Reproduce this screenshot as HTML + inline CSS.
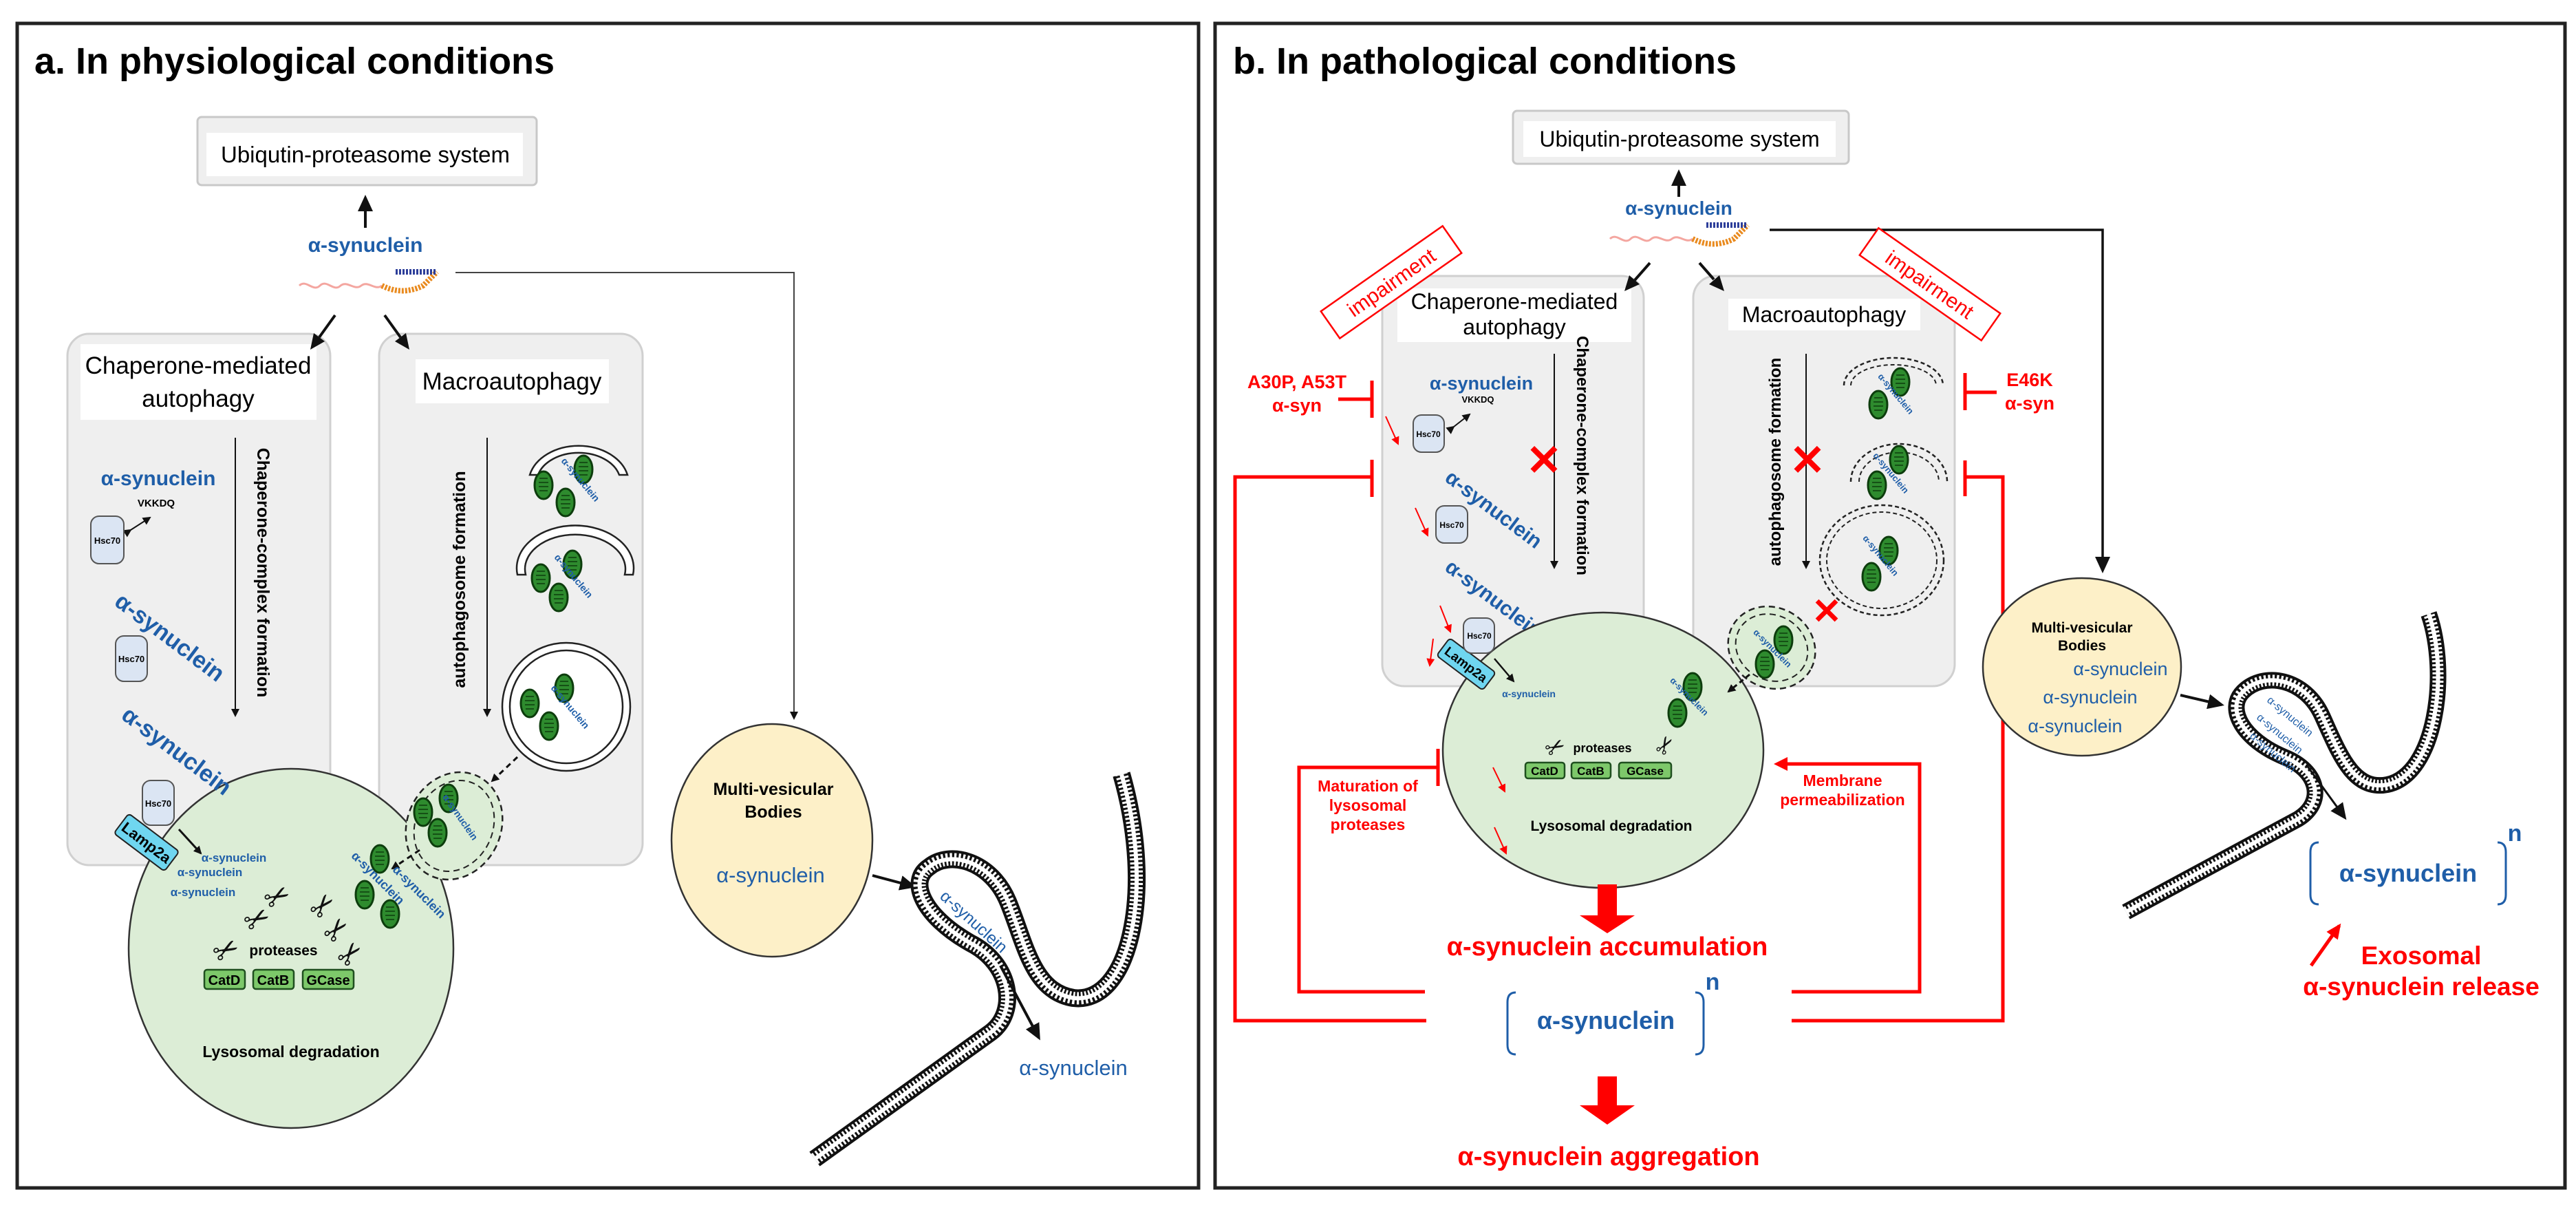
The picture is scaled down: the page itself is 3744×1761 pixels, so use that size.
<!DOCTYPE html>
<html><head><meta charset="utf-8"><style>
html,body{margin:0;padding:0;background:#fff}
svg{display:block}
text{font-family:"Liberation Sans",Arial,sans-serif}
.b{font-weight:bold}
.blue{fill:#1f5ea8}
.red{fill:#f00}
</style></head><body>
<svg width="3744" height="1761" viewBox="0 0 3744 1761" xmlns="http://www.w3.org/2000/svg">
<defs>
<marker id="ah" markerWidth="12" markerHeight="12" refX="10" refY="6" orient="auto" markerUnits="userSpaceOnUse"><path d="M0,0 L12,6 L0,12 z" fill="#111"/></marker>
<marker id="ahB" markerWidth="24" markerHeight="22" refX="20" refY="11" orient="auto" markerUnits="userSpaceOnUse"><path d="M0,0 L24,11 L0,22 z" fill="#111"/></marker>
<marker id="ahR" markerWidth="22" markerHeight="20" refX="18" refY="10" orient="auto" markerUnits="userSpaceOnUse"><path d="M0,0 L22,10 L0,20 z" fill="#f00"/></marker>
<marker id="ahr" markerWidth="12" markerHeight="12" refX="10" refY="6" orient="auto" markerUnits="userSpaceOnUse"><path d="M0,0 L12,6 L0,12 z" fill="#f00"/></marker>
<g id="mito"><ellipse cx="0" cy="0" rx="13" ry="20" fill="#2e8b2e" stroke="#0d3d0d" stroke-width="3"/><path d="M-6,-10 H6 M-7,-4 H7 M-7,2 H7 M-6,8 H6" stroke="#0d3d0d" stroke-width="1.5"/></g>
<g id="prot"><path d="M0,25 c10,-10 20,10 30,0 c10,-10 20,10 30,0 c10,-8 20,8 30,0 c10,-8 20,8 30,0" fill="none" stroke="#f4a6a0" stroke-width="3"/><path d="M120,25 c20,10 40,10 60,0 l20,-20" fill="none" stroke="#e98a1e" stroke-width="8" stroke-dasharray="3 2"/><path d="M140,5 h60" fill="none" stroke="#2e3f9a" stroke-width="8" stroke-dasharray="3 2"/></g>
</defs>

<!-- PANEL A -->
<rect x="25" y="34" width="1717" height="1692" fill="#fff" stroke="#222" stroke-width="5"/>
<text x="50" y="107" class="b" font-size="54">a. In physiological conditions</text>

<rect x="287" y="170" width="493" height="99" rx="6" fill="#efefef" stroke="#c8c8c8" stroke-width="3"/>
<rect x="300" y="193" width="460" height="63" fill="#fff"/>
<text x="531" y="236" font-size="33" text-anchor="middle">Ubiqutin-proteasome system</text>
<line x1="531" y1="331" x2="531" y2="287" stroke="#111" stroke-width="4" marker-end="url(#ahB)"/>
<text x="531" y="366" font-size="30" class="b blue" text-anchor="middle">α-synuclein</text>
<use href="#prot" x="435" y="390"/>
<polyline points="662,396 1154,396 1154,1044" fill="none" stroke="#444" stroke-width="2" marker-end="url(#ah)"/>

<rect x="98" y="485" width="382" height="772" rx="32" fill="#efefef" stroke="#d0d0d0" stroke-width="3"/>
<rect x="117" y="500" width="343" height="110" fill="#fff"/>
<text x="288" y="543" font-size="35" text-anchor="middle">Chaperone-mediated</text>
<text x="288" y="591" font-size="35" text-anchor="middle">autophagy</text>
<line x1="342" y1="636" x2="342" y2="1040" stroke="#111" stroke-width="2" marker-end="url(#ah)"/>
<text transform="translate(374,832) rotate(90)" font-size="25" class="b" text-anchor="middle">Chaperone-complex formation</text>
<text x="230" y="705" font-size="30" class="b blue" text-anchor="middle">α-synuclein</text>
<text x="227" y="736" font-size="15" class="b" text-anchor="middle">VKKDQ</text>
<line x1="190" y1="770" x2="218" y2="752" stroke="#111" stroke-width="2" marker-end="url(#ah)" marker-start="url(#ah)"/>
<rect x="132" y="750" width="48" height="69" rx="12" fill="#dbe5f3" stroke="#555" stroke-width="2"/>
<text x="156" y="790" font-size="13" class="b" text-anchor="middle">Hsc70</text>
<rect x="168" y="924" width="46" height="66" rx="12" fill="#dbe5f3" stroke="#555" stroke-width="2"/>
<text x="191" y="962" font-size="13" class="b" text-anchor="middle">Hsc70</text>
<text transform="translate(240,935) rotate(37)" font-size="34" class="b blue" text-anchor="middle">α-synuclein</text>
<rect x="207" y="1134" width="46" height="65" rx="12" fill="#dbe5f3" stroke="#555" stroke-width="2"/>
<text x="230" y="1172" font-size="13" class="b" text-anchor="middle">Hsc70</text>

<rect x="551" y="485" width="383" height="772" rx="32" fill="#efefef" stroke="#d0d0d0" stroke-width="3"/>
<rect x="604" y="522" width="281" height="64" fill="#fff"/>
<text x="744" y="566" font-size="35" text-anchor="middle">Macroautophagy</text>
<line x1="708" y1="636" x2="708" y2="1040" stroke="#111" stroke-width="2" marker-end="url(#ah)"/>
<text transform="translate(676,842) rotate(-90)" font-size="25" class="b" text-anchor="middle">autophagosome formation</text>
<path d="M770,690 A73,55 0 0 1 912,690 L900,690 A61,43 0 0 0 782,690 z" fill="#fff" stroke="#222" stroke-width="2.5"/>
<use href="#mito" x="790" y="705"/><use href="#mito" x="848" y="682"/><use href="#mito" x="822" y="730"/>
<text transform="translate(840,700) rotate(50)" font-size="14" class="b blue" text-anchor="middle">α-synuclein</text>
<path d="M752,835 A85,62 0 1 1 920,835 L908,835 A73,50 0 1 0 764,835 z" fill="#fff" stroke="#222" stroke-width="2.5"/>
<use href="#mito" x="786" y="840"/><use href="#mito" x="832" y="820"/><use href="#mito" x="812" y="868"/>
<text transform="translate(830,840) rotate(50)" font-size="14" class="b blue" text-anchor="middle">α-synuclein</text>
<circle cx="823" cy="1027" r="93" fill="#fff" stroke="#222" stroke-width="2.5"/>
<circle cx="823" cy="1027" r="82" fill="#fff" stroke="#222" stroke-width="2.5"/>
<use href="#mito" x="770" y="1022"/><use href="#mito" x="820" y="1000"/><use href="#mito" x="798" y="1055"/>
<text transform="translate(825,1030) rotate(50)" font-size="14" class="b blue" text-anchor="middle">α-synuclein</text>
<line x1="752" y1="1100" x2="715" y2="1135" stroke="#111" stroke-width="3" stroke-dasharray="8 6" marker-end="url(#ah)"/>

<ellipse cx="423" cy="1378" rx="236" ry="261" fill="#dcedd6" stroke="#333" stroke-width="2.5"/>
<ellipse cx="660" cy="1200" rx="68" ry="80" transform="rotate(25 660 1200)" fill="#dcedd6" stroke="#222" stroke-width="2.5" stroke-dasharray="9 6"/>
<ellipse cx="660" cy="1200" rx="56" ry="68" transform="rotate(25 660 1200)" fill="none" stroke="#222" stroke-width="2" stroke-dasharray="9 6"/>
<use href="#mito" x="615" y="1180"/><use href="#mito" x="652" y="1160"/><use href="#mito" x="636" y="1210"/>
<text transform="translate(665,1190) rotate(55)" font-size="14" class="b blue" text-anchor="middle">α-synuclein</text>
<line x1="610" y1="1235" x2="570" y2="1262" stroke="#111" stroke-width="3" stroke-dasharray="8 6" marker-end="url(#ah)"/>
<g transform="translate(213,1224) rotate(37)"><rect x="-46" y="-18" width="92" height="36" rx="5" fill="#6fd6f0" stroke="#222" stroke-width="2"/><text x="0" y="8" font-size="22" class="b" text-anchor="middle">Lamp2a</text></g>
<line x1="260" y1="1205" x2="292" y2="1240" stroke="#111" stroke-width="3" marker-end="url(#ah)"/>
<text x="340" y="1252" font-size="17" class="b blue" text-anchor="middle">α-synuclein</text>
<text x="305" y="1273" font-size="17" class="b blue" text-anchor="middle">α-synuclein</text>
<text x="295" y="1302" font-size="17" class="b blue" text-anchor="middle">α-synuclein</text>
<use href="#mito" x="552" y="1248"/><use href="#mito" x="530" y="1300"/><use href="#mito" x="567" y="1328"/>
<text transform="translate(545,1280) rotate(45)" font-size="18" class="b blue" text-anchor="middle">α-synuclein</text>
<text transform="translate(605,1300) rotate(45)" font-size="18" class="b blue" text-anchor="middle">α-synuclein</text>
<g font-size="44" fill="#111">
<text x="310" y="1395" transform="rotate(-30 330 1380)">✂</text>
<text x="355" y="1350" transform="rotate(-30 375 1335)">✂</text>
<text x="385" y="1320" transform="rotate(-30 400 1305)">✂</text>
<text x="450" y="1330" transform="rotate(-50 470 1315)">✂</text>
<text x="470" y="1365" transform="rotate(-50 490 1350)">✂</text>
<text x="490" y="1400" transform="rotate(-50 510 1385)">✂</text>
</g>
<text x="412" y="1388" font-size="21" class="b" text-anchor="middle">proteases</text>
<rect x="297" y="1409" width="59" height="28" rx="4" fill="#7dc86a" stroke="#1f4f1f" stroke-width="2.5"/><text x="326" y="1431" font-size="20" class="b" text-anchor="middle">CatD</text>
<rect x="368" y="1409" width="59" height="28" rx="4" fill="#7dc86a" stroke="#1f4f1f" stroke-width="2.5"/><text x="397" y="1431" font-size="20" class="b" text-anchor="middle">CatB</text>
<rect x="440" y="1409" width="74" height="28" rx="4" fill="#7dc86a" stroke="#1f4f1f" stroke-width="2.5"/><text x="477" y="1431" font-size="20" class="b" text-anchor="middle">GCase</text>
<text x="423" y="1536" font-size="23" class="b" text-anchor="middle">Lysosomal  degradation</text>
<text transform="translate(250,1100) rotate(37)" font-size="34" class="b blue" text-anchor="middle">α-synuclein</text>

<ellipse cx="1122" cy="1221" rx="146" ry="169" fill="#fdf0c8" stroke="#333" stroke-width="2.5"/>
<text x="1124" y="1155" font-size="25" class="b" text-anchor="middle">Multi-vesicular</text>
<text x="1124" y="1188" font-size="25" class="b" text-anchor="middle">Bodies</text>
<text x="1120" y="1282" font-size="31" class="blue" text-anchor="middle">α-synuclein</text>
<line x1="1268" y1="1272" x2="1328" y2="1288" stroke="#111" stroke-width="4" marker-end="url(#ahB)"/>
<g fill="none">
<path d="M1184,1684 L1440,1500 C1480,1470 1470,1400 1410,1370 C1340,1330 1320,1280 1350,1260 C1380,1235 1440,1250 1465,1310 C1490,1370 1500,1440 1560,1450 C1640,1460 1680,1300 1630,1125" stroke="#111" stroke-width="26"/>
<path d="M1184,1684 L1440,1500 C1480,1470 1470,1400 1410,1370 C1340,1330 1320,1280 1350,1260 C1380,1235 1440,1250 1465,1310 C1490,1370 1500,1440 1560,1450 C1640,1460 1680,1300 1630,1125" stroke="#fff" stroke-width="18" stroke-dasharray="3 3"/>
<path d="M1184,1684 L1440,1500 C1480,1470 1470,1400 1410,1370 C1340,1330 1320,1280 1350,1260 C1380,1235 1440,1250 1465,1310 C1490,1370 1500,1440 1560,1450 C1640,1460 1680,1300 1630,1125" stroke="#fff" stroke-width="6"/>
</g>
<text transform="translate(1410,1345) rotate(42)" font-size="24" class="blue" text-anchor="middle">α-synuclein</text>
<line x1="1454" y1="1403" x2="1510" y2="1508" stroke="#111" stroke-width="4" marker-end="url(#ahB)"/>
<text x="1560" y="1562" font-size="31" class="blue" text-anchor="middle">α-synuclein</text>

<!-- PANEL B -->
<rect x="1766" y="34" width="1962" height="1692" fill="#fff" stroke="#222" stroke-width="5"/>
<text x="1792" y="107" class="b" font-size="54">b. In pathological conditions</text>

<rect x="2199" y="161" width="488" height="77" rx="6" fill="#efefef" stroke="#c8c8c8" stroke-width="3"/>
<rect x="2214" y="176" width="454" height="52" fill="#fff"/>
<text x="2441" y="213" font-size="32" text-anchor="middle">Ubiqutin-proteasome system</text>
<line x1="2440" y1="286" x2="2440" y2="250" stroke="#111" stroke-width="4" marker-end="url(#ahB)"/>
<text x="2440" y="312" font-size="28" class="b blue" text-anchor="middle">α-synuclein</text>
<use href="#prot" x="2340" y="322"/>
<polyline points="2572,334 3056,334 3056,829" fill="none" stroke="#111" stroke-width="3.5" marker-end="url(#ahB)"/>

<rect x="2009" y="401" width="380" height="596" rx="32" fill="#efefef" stroke="#d0d0d0" stroke-width="3"/>
<rect x="2031" y="419" width="340" height="78" fill="#fff"/>
<text x="2201" y="449" font-size="32" text-anchor="middle">Chaperone-mediated</text>
<text x="2201" y="486" font-size="32" text-anchor="middle">autophagy</text>
<line x1="2259" y1="514" x2="2259" y2="825" stroke="#111" stroke-width="2" marker-end="url(#ah)"/>
<text transform="translate(2292,662) rotate(90)" font-size="24" class="b" text-anchor="middle">Chaperone-complex formation</text>
<text x="2244" y="690" font-size="62" class="b red" text-anchor="middle">✕</text>
<text x="2153" y="566" font-size="27" class="b blue" text-anchor="middle">α-synuclein</text>
<text x="2148" y="585" font-size="13" class="b" text-anchor="middle">VKKDQ</text>
<line x1="2113" y1="620" x2="2136" y2="602" stroke="#111" stroke-width="2" marker-end="url(#ah)" marker-start="url(#ah)"/>
<rect x="2054" y="603" width="45" height="54" rx="12" fill="#dbe5f3" stroke="#555" stroke-width="2"/><text x="2076" y="635" font-size="12" class="b" text-anchor="middle">Hsc70</text>
<rect x="2087" y="735" width="46" height="54" rx="12" fill="#dbe5f3" stroke="#555" stroke-width="2"/><text x="2110" y="767" font-size="12" class="b" text-anchor="middle">Hsc70</text>
<text transform="translate(2165,748) rotate(37)" font-size="30" class="b blue" text-anchor="middle">α-synuclein</text>
<text transform="translate(2165,878) rotate(37)" font-size="30" class="b blue" text-anchor="middle">α-synuclein</text>
<line x1="2014" y1="605" x2="2032" y2="645" stroke="#f00" stroke-width="2" marker-end="url(#ahr)"/>
<line x1="2057" y1="738" x2="2075" y2="778" stroke="#f00" stroke-width="2" marker-end="url(#ahr)"/>

<rect x="2461" y="401" width="380" height="596" rx="32" fill="#efefef" stroke="#d0d0d0" stroke-width="3"/>
<rect x="2512" y="434" width="279" height="46" fill="#fff"/>
<text x="2651" y="468" font-size="32" text-anchor="middle">Macroautophagy</text>
<line x1="2625" y1="514" x2="2625" y2="825" stroke="#111" stroke-width="2" marker-end="url(#ah)"/>
<text transform="translate(2588,671) rotate(-90)" font-size="24" class="b" text-anchor="middle">autophagosome formation</text>
<text x="2627" y="690" font-size="62" class="b red" text-anchor="middle">✕</text>
<path d="M2680,560 A72,40 0 0 1 2824,560" fill="none" stroke="#222" stroke-width="2.5" stroke-dasharray="6 4"/>
<path d="M2690,560 A62,30 0 0 1 2814,560" fill="none" stroke="#222" stroke-width="2" stroke-dasharray="6 4"/>
<use href="#mito" x="2762" y="555"/><use href="#mito" x="2730" y="588"/>
<text transform="translate(2752,575) rotate(50)" font-size="13" class="b blue" text-anchor="middle">α-synuclein</text>
<path d="M2690,700 A70,55 0 1 1 2830,700" fill="none" stroke="#222" stroke-width="2.5" stroke-dasharray="6 4"/>
<path d="M2702,700 A58,43 0 1 1 2818,700" fill="none" stroke="#222" stroke-width="2" stroke-dasharray="6 4"/>
<use href="#mito" x="2760" y="668"/><use href="#mito" x="2728" y="705"/>
<text transform="translate(2745,690) rotate(50)" font-size="13" class="b blue" text-anchor="middle">α-synuclein</text>
<ellipse cx="2735" cy="814" rx="90" ry="80" fill="none" stroke="#222" stroke-width="2.5" stroke-dasharray="6 4"/>
<ellipse cx="2735" cy="814" rx="80" ry="70" fill="none" stroke="#222" stroke-width="2" stroke-dasharray="6 4"/>
<use href="#mito" x="2745" y="800"/><use href="#mito" x="2720" y="838"/>
<text transform="translate(2730,810) rotate(50)" font-size="13" class="b blue" text-anchor="middle">α-synuclein</text>
<text x="2655" y="906" font-size="52" class="b red" text-anchor="middle">✕</text>

<ellipse cx="2330" cy="1090" rx="233" ry="200" fill="#dcedd6" stroke="#333" stroke-width="2.5"/>
<ellipse cx="2575" cy="941" rx="65" ry="58" transform="rotate(30 2575 941)" fill="#dcedd6" stroke="#222" stroke-width="2.5" stroke-dasharray="9 6"/>
<ellipse cx="2575" cy="941" rx="54" ry="47" transform="rotate(30 2575 941)" fill="none" stroke="#222" stroke-width="2" stroke-dasharray="9 6"/>
<use href="#mito" x="2592" y="930"/><use href="#mito" x="2565" y="965"/>
<text transform="translate(2573,945) rotate(45)" font-size="13" class="b blue" text-anchor="middle">α-synuclein</text>
<line x1="2543" y1="980" x2="2512" y2="1005" stroke="#111" stroke-width="3" stroke-dasharray="7 5" marker-end="url(#ah)"/>
<use href="#mito" x="2460" y="998"/><use href="#mito" x="2438" y="1036"/>
<text transform="translate(2452,1015) rotate(45)" font-size="13" class="b blue" text-anchor="middle">α-synuclein</text>
<g transform="translate(2131,965) rotate(37)"><rect x="-42" y="-16" width="84" height="32" rx="5" fill="#6fd6f0" stroke="#222" stroke-width="2"/><text x="0" y="7" font-size="19" class="b" text-anchor="middle">Lamp2a</text></g>
<rect x="2127" y="898" width="45" height="51" rx="12" fill="#dbe5f3" stroke="#555" stroke-width="2"/><text x="2150" y="928" font-size="12" class="b" text-anchor="middle">Hsc70</text>
<line x1="2172" y1="957" x2="2200" y2="990" stroke="#111" stroke-width="2.5" marker-end="url(#ah)"/>
<text x="2222" y="1013" font-size="14" class="b blue" text-anchor="middle">α-synuclein</text>
<line x1="2093" y1="880" x2="2108" y2="918" stroke="#f00" stroke-width="2" marker-end="url(#ahr)"/>
<line x1="2083" y1="928" x2="2078" y2="967" stroke="#f00" stroke-width="2" marker-end="url(#ahr)"/>
<text x="2245" y="1100" font-size="34" fill="#111" transform="rotate(-30 2255 1085)">✂</text>
<text x="2405" y="1100" font-size="34" fill="#111" transform="rotate(-60 2415 1085)">✂</text>
<text x="2329" y="1093" font-size="18" class="b" text-anchor="middle">proteases</text>
<rect x="2217" y="1108" width="57" height="23" rx="4" fill="#7dc86a" stroke="#1f4f1f" stroke-width="2.5"/><text x="2245" y="1126" font-size="17" class="b" text-anchor="middle">CatD</text>
<rect x="2284" y="1108" width="57" height="23" rx="4" fill="#7dc86a" stroke="#1f4f1f" stroke-width="2.5"/><text x="2312" y="1126" font-size="17" class="b" text-anchor="middle">CatB</text>
<rect x="2353" y="1108" width="76" height="23" rx="4" fill="#7dc86a" stroke="#1f4f1f" stroke-width="2.5"/><text x="2391" y="1126" font-size="17" class="b" text-anchor="middle">GCase</text>
<line x1="2170" y1="1115" x2="2187" y2="1150" stroke="#f00" stroke-width="2" marker-end="url(#ahr)"/>
<line x1="2172" y1="1202" x2="2189" y2="1240" stroke="#f00" stroke-width="2" marker-end="url(#ahr)"/>
<text x="2342" y="1207" font-size="21" class="b" text-anchor="middle">Lysosomal  degradation</text>

<g transform="translate(2022,410) rotate(-35)"><rect x="-108" y="-24" width="216" height="48" fill="#fff" stroke="#f00" stroke-width="2.5"/><text x="0" y="11" font-size="30" class="red" text-anchor="middle">impairment</text></g>
<g transform="translate(2805,413) rotate(35)"><rect x="-108" y="-24" width="216" height="48" fill="#fff" stroke="#f00" stroke-width="2.5"/><text x="0" y="11" font-size="30" class="red" text-anchor="middle">impairment</text></g>

<g stroke="#f00" stroke-width="5" fill="none">
<line x1="1945" y1="580" x2="1994" y2="580"/><line x1="1994" y1="553" x2="1994" y2="607"/>
<line x1="2902" y1="570" x2="2856" y2="570"/><line x1="2856" y1="542" x2="2856" y2="596"/>
<polyline points="1994,693 1795,693 1795,1483 2073,1483"/><line x1="1994" y1="668" x2="1994" y2="722"/>
<polyline points="2090,1115 1888,1115 1888,1441 2071,1441"/><line x1="2090" y1="1088" x2="2090" y2="1142"/>
<polyline points="2604,1441 2790,1441 2790,1110 2590,1110"/>
<polyline points="2856,693 2911,693 2911,1483 2604,1483"/><line x1="2856" y1="669" x2="2856" y2="721"/>
</g>
<path d="M2578,1110 L2598,1100 L2598,1120 z" fill="#f00"/>
<text x="1885" y="564" font-size="27" class="b red" text-anchor="middle">A30P, A53T</text>
<text x="1885" y="598" font-size="27" class="b red" text-anchor="middle">α-syn</text>
<text x="2950" y="561" font-size="27" class="b red" text-anchor="middle">E46K</text>
<text x="2950" y="595" font-size="27" class="b red" text-anchor="middle">α-syn</text>
<text x="1988" y="1150" font-size="23" class="b red" text-anchor="middle">Maturation of</text>
<text x="1988" y="1178" font-size="23" class="b red" text-anchor="middle">lysosomal</text>
<text x="1988" y="1206" font-size="23" class="b red" text-anchor="middle">proteases</text>
<text x="2678" y="1142" font-size="23" class="b red" text-anchor="middle">Membrane</text>
<text x="2678" y="1170" font-size="23" class="b red" text-anchor="middle">permeabilization</text>

<path d="M2322,1285 H2350 V1330 H2376 L2336,1356 L2296,1330 H2322 z" fill="#f00"/>
<text x="2336" y="1388" font-size="38" class="b red" text-anchor="middle">α-synuclein  accumulation</text>
<path d="M2203,1442 q-12,0 -12,14 v62 q0,14 12,14" fill="none" stroke="#1f5ea8" stroke-width="3"/>
<path d="M2464,1442 q12,0 12,14 v62 q0,14 -12,14" fill="none" stroke="#1f5ea8" stroke-width="3"/>
<text x="2334" y="1495" font-size="36" class="b blue" text-anchor="middle">α-synuclein</text>
<text x="2489" y="1438" font-size="34" class="b blue" text-anchor="middle">n</text>
<path d="M2322,1564 H2350 V1606 H2376 L2336,1634 L2296,1606 H2322 z" fill="#f00"/>
<text x="2338" y="1693" font-size="38" class="b red" text-anchor="middle">α-synuclein  aggregation</text>

<ellipse cx="3026" cy="969" rx="144" ry="129" fill="#fdf0c8" stroke="#333" stroke-width="2.5"/>
<text x="3026" y="919" font-size="21" class="b" text-anchor="middle">Multi-vesicular</text>
<text x="3026" y="945" font-size="21" class="b" text-anchor="middle">Bodies</text>
<text x="3082" y="981" font-size="27" class="blue" text-anchor="middle">α-synuclein</text>
<text x="3038" y="1022" font-size="27" class="blue" text-anchor="middle">α-synuclein</text>
<text x="3016" y="1064" font-size="27" class="blue" text-anchor="middle">α-synuclein</text>
<line x1="3169" y1="1010" x2="3229" y2="1024" stroke="#111" stroke-width="4" marker-end="url(#ahB)"/>
<g fill="none">
<path d="M3090,1325 L3340,1190 C3380,1165 3370,1120 3320,1100 C3260,1075 3235,1030 3260,1005 C3290,975 3350,985 3375,1040 C3400,1095 3420,1150 3470,1140 C3540,1125 3560,980 3530,892" stroke="#111" stroke-width="24"/>
<path d="M3090,1325 L3340,1190 C3380,1165 3370,1120 3320,1100 C3260,1075 3235,1030 3260,1005 C3290,975 3350,985 3375,1040 C3400,1095 3420,1150 3470,1140 C3540,1125 3560,980 3530,892" stroke="#fff" stroke-width="16" stroke-dasharray="3 3"/>
<path d="M3090,1325 L3340,1190 C3380,1165 3370,1120 3320,1100 C3260,1075 3235,1030 3260,1005 C3290,975 3350,985 3375,1040 C3400,1095 3420,1150 3470,1140 C3540,1125 3560,980 3530,892" stroke="#fff" stroke-width="6"/>
</g>
<text transform="translate(3325,1045) rotate(40)" font-size="16" class="blue" text-anchor="middle">α-synuclein</text>
<text transform="translate(3310,1070) rotate(40)" font-size="16" class="blue" text-anchor="middle">α-synuclein</text>
<text transform="translate(3300,1097) rotate(40)" font-size="16" class="blue" text-anchor="middle">α-synuclein</text>
<line x1="3352" y1="1111" x2="3408" y2="1188" stroke="#111" stroke-width="3" marker-end="url(#ahB)"/>
<path d="M3370,1224 q-12,0 -12,14 v62 q0,14 12,14" fill="none" stroke="#1f5ea8" stroke-width="3"/>
<path d="M3630,1224 q12,0 12,14 v62 q0,14 -12,14" fill="none" stroke="#1f5ea8" stroke-width="3"/>
<text x="3500" y="1281" font-size="36" class="b blue" text-anchor="middle">α-synuclein</text>
<text x="3655" y="1222" font-size="34" class="b blue" text-anchor="middle">n</text>
<line x1="3359" y1="1403" x2="3400" y2="1345" stroke="#f00" stroke-width="5" marker-end="url(#ahR)"/>
<text x="3519" y="1401" font-size="37" class="b red" text-anchor="middle">Exosomal</text>
<text x="3519" y="1446" font-size="37" class="b red" text-anchor="middle">α-synuclein  release</text>

<!-- diagonal arrows drawn on top -->
<line x1="487" y1="458" x2="464" y2="490" stroke="#111" stroke-width="4"/>
<polygon points="451,508 472,496 456,484" fill="#111"/>
<line x1="559" y1="458" x2="582" y2="490" stroke="#111" stroke-width="4"/>
<polygon points="595,508 574,496 590,484" fill="#111"/>
<line x1="2398" y1="382" x2="2376" y2="407" stroke="#111" stroke-width="4"/>
<polygon points="2361,423 2383,413 2368,400" fill="#111"/>
<line x1="2470" y1="382" x2="2491" y2="406" stroke="#111" stroke-width="4"/>
<polygon points="2506,423 2484,413 2499,400" fill="#111"/>
</svg>
</body></html>
